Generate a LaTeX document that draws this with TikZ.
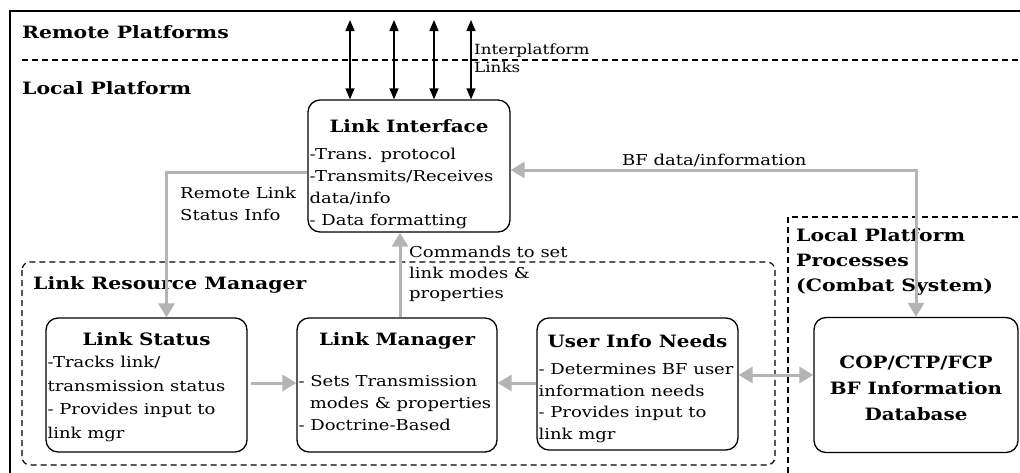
\documentclass[tikz,border=0pt]{standalone}
\usepackage{fontspec}
\setmainfont{DejaVu Serif}
\newfontfamily\bodyfam{DejaVu Serif}[FakeStretch=1.2]
\newfontfamily\titlefam{DejaVu Serif}[FakeStretch=1.17]
\newfontfamily\headfam{DejaVu Serif}[FakeStretch=1.2]
\usetikzlibrary{arrows.meta}
\definecolor{conngrey}{HTML}{B4B4B4}
\tikzset{
  box/.style={draw=black, line width=1.3pt, rounded corners=12pt, inner sep=0pt},
  boxtitle/.style={font=\titlefam\fontsize{17}{20}\selectfont\bfseries, inner sep=0pt, anchor=base},
  boxbody/.style={font=\bodyfam\fontsize{15}{22}\selectfont, inner sep=0pt, align=left, anchor=north west},
  greyconn/.style={draw=conngrey, line width=3pt, -{Triangle[length=14pt,width=16pt]}},
  greyboth/.style={draw=conngrey, line width=3pt, {Triangle[length=14pt,width=16pt]}-{Triangle[length=14pt,width=16pt]}},
  blackboth/.style={draw=black, line width=1.4pt, {Triangle[length=11pt,width=9pt]}-{Triangle[length=11pt,width=9pt]}},
  dashline/.style={draw=black, line width=1.2pt, dash pattern=on 6pt off 4pt},
  heading/.style={font=\headfam\fontsize{17}{25}\selectfont\bfseries, inner sep=0pt, anchor=west},
  label/.style={font=\bodyfam\fontsize{15}{22}\selectfont, inner sep=0pt, align=left, anchor=north west},
}
\begin{document}
\begin{tikzpicture}[x=1pt,y=-1pt]
\useasboundingbox (0,0) rectangle (1020,472);
\clip (0,0) rectangle (1020,472);
\fill[white] (0,0) rectangle (1020,472);
% outer frame
\draw[line width=1.5pt] (10,11) rectangle (1040,490);
% platform divider
\draw[dashline] (22,60) -- (1030,60);
\node[heading] (remote) at (22,32) {Remote Platforms};
\node[heading] (local) at (22,88) {Local Platform};
% dashed groups
\draw[dashline, rounded corners=8pt] (22,262) rectangle (775,465);
\node[heading] (lrm) at (33,285) {Link Resource Manager};
\draw[dashline] (788,217) rectangle (1040,490);
\node[heading, anchor=north west, align=left] (lpp) at (796,228) {Local Platform\\Processes\\(Combat System)};
% boxes
\node[box, minimum width=202pt, minimum height=132pt] (li) at (409,166) {};
\node[boxtitle] (li-t) at ([yshift=-33pt]li.north) {Link Interface};
\node[boxbody, font=\bodyfam\fontsize{15}{21.7}\selectfont] (li-b) at ([xshift=2pt,yshift=-49pt]li.north west)
  {-Trans. protocol\\-Transmits/Receives\\data/info\\- Data formatting};
\node[box, minimum width=201pt, minimum height=134pt] (ls) at (146.5,385) {};
\node[boxtitle] (ls-t) at ([yshift=-28pt]ls.north) {Link Status};
\node[boxbody, font=\bodyfam\fontsize{15}{23.4}\selectfont] (ls-b) at ([xshift=2pt,yshift=-39pt]ls.north west)
  {-Tracks link/\\transmission status\\- Provides input to\\link mgr};
\node[box, minimum width=200pt, minimum height=134pt] (lm) at (397,385) {};
\node[boxtitle] (lm-t) at ([yshift=-28pt]lm.north) {Link Manager};
\node[boxbody, font=\bodyfam\fontsize{15}{21.7}\selectfont] (lm-b) at ([xshift=2pt,yshift=-58pt]lm.north west)
  {- Sets Transmission\\\hspace*{0.75em}modes \& properties\\- Doctrine-Based};
\node[box, minimum width=201pt, minimum height=132pt] (uin) at (637.5,384) {};
\node[boxtitle] (uin-t) at ([yshift=-30pt]uin.north) {User Info Needs};
\node[boxbody, font=\bodyfam\fontsize{15}{21.7}\selectfont] (uin-b) at ([xshift=2pt,yshift=-46pt]uin.north west)
  {- Determines BF user\\information needs\\- Provides input to\\link mgr};
\node[box, minimum width=204pt, minimum height=135pt] (cop) at (916,385) {};
\node[font=\titlefam\fontsize{17}{26}\selectfont\bfseries, align=center, inner sep=0pt, anchor=north] (cop-t) at ([yshift=-39pt]cop.north)
  {COP/CTP/FCP\\BF Information\\Database};
% interplatform links
\coordinate (t1) at (350,20);
\coordinate (t2) at (394,20);
\coordinate (t3) at (434,20);
\coordinate (t4) at (471,20);
\draw[blackboth] (t1) -- (t1 |- li.north);
\draw[blackboth] (t2) -- (t2 |- li.north);
\draw[blackboth] (t3) -- (t3 |- li.north);
\draw[blackboth] (t4) -- (t4 |- li.north);
\node[label, font=\bodyfam\fontsize{14}{18}\selectfont] (ipl) at (474,44) {Interplatform\\Links};
% grey connectors
\draw[greyconn] ([yshift=-6pt]li.west) -| ([xshift=20pt]ls.north);
\node[label] (rlsi) at (180,187) {Remote Link\\Status Info};
\draw[greyboth] ([yshift=-4pt]li.east) -| (cop.north);
\node[label] (bfd) at (622,154) {BF data/information};
\draw[greyconn] ([xshift=3pt]lm.north) -- ([xshift=3pt]lm.north |- li.south);
\node[label, font=\bodyfam\fontsize{15}{20.5}\selectfont] (cmd) at (409,246) {Commands to set\\link modes \&\\properties};
\draw[greyconn, shorten <=3pt] ([yshift=2pt]ls.east) -- ([yshift=2pt]lm.west);
\draw[greyconn] ([yshift=1pt]uin.west) -- ([yshift=1pt]uin.west -| lm.east);
\draw[greyboth] ([yshift=9pt]uin.east) -- ([yshift=9pt]uin.east -| cop.west);
\end{tikzpicture}
\end{document}
